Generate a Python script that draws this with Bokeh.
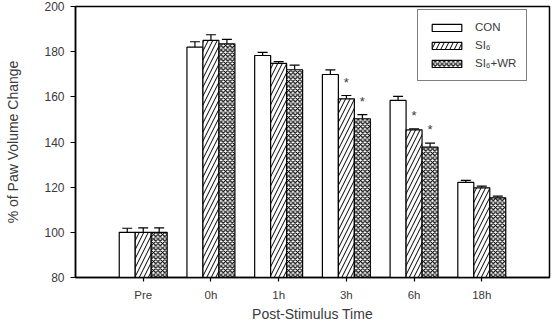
from bokeh.plotting import figure
from bokeh.models import (ColumnDataSource, Whisker, TeeHead, FixedTicker, Legend,
                          LegendItem, Range1d)
from bokeh.core.properties import value
from bokeh.embed import file_html
from bokeh.resources import INLINE

categories = ["Pre", "0h", "1h", "3h", "6h", "18h"]
series_names = ["CON", "SI\u2086", "SI\u2086+WR"]
con = [100.0, 182.0, 178.3, 169.9, 158.4, 122.1]
con_err = [1.8, 2.4, 1.4, 2.0, 1.8, 0.9]
si = [100.0, 185.0, 174.8, 159.1, 145.4, 119.7]
si_err = [2.0, 2.5, 0.8, 1.5, 0.4, 0.8]
wr = [100.0, 183.5, 172.0, 150.3, 137.7, 115.3]
wr_err = [2.0, 1.9, 2.0, 1.8, 1.8, 0.7]
# significance markers: (category index, series index)
stars = [(3, 1), (3, 2), (4, 1), (4, 2)]

FONT = "Liberation Sans"
TXT = "#3a3a3a"

p = figure(frame_width=474, frame_height=271, output_backend="svg", toolbar_location=None,
           x_range=Range1d(-1, 6), y_range=Range1d(80, 200),
           min_border_left=75, min_border_right=7, min_border_top=6, min_border_bottom=47)
p.grid.visible = False
p.outline_line_color = "black"
p.outline_line_width = 1.5
p.background_fill_color = "white"
p.border_fill_color = "white"

w = 0.236
offsets = [-w, 0.0, w]
styles = [
    dict(fill_color="white", hatch_pattern=None),
    dict(fill_color="white", hatch_pattern="right_diagonal_line", hatch_color="black",
         hatch_scale=9, hatch_weight=1.0),
    dict(fill_color="white", hatch_pattern="diagonal_cross", hatch_color="black",
         hatch_scale=4.5, hatch_weight=1.2),
]
data = [(con, con_err), (si, si_err), (wr, wr_err)]
renderers = []
for k, ((vals, errs), st) in enumerate(zip(data, styles)):
    xs = [i + offsets[k] for i in range(len(categories))]
    src = ColumnDataSource(dict(x=xs, top=vals, up=[v + e for v, e in zip(vals, errs)]))
    kw = {kk: vv for kk, vv in st.items() if vv is not None}
    r = p.vbar(x="x", top="top", bottom=80, width=w, source=src,
               line_color="black", line_width=1.2, **kw)
    renderers.append(r)
    wh = Whisker(base="x", lower="top", upper="up", source=src, dimension="height",
                 line_color="black", line_width=1.2,
                 upper_head=TeeHead(size=10, line_color="black", line_width=1.2),
                 lower_head=None)
    p.add_layout(wh)

sx, sy = [], []
for ci, si_ in stars:
    vals, errs = data[si_]
    sx.append(ci + offsets[si_])
    sy.append(vals[ci] + errs[ci] + 2.5)
p.text(x=sx, y=sy, text=["*"] * len(sx), text_align="center", text_baseline="bottom",
       text_font=value(FONT), text_font_size="13px", text_color=TXT)

p.xaxis.ticker = FixedTicker(ticks=list(range(len(categories))))
p.xaxis.major_label_overrides = {i: c for i, c in enumerate(categories)}
p.yaxis.ticker = FixedTicker(ticks=[80, 100, 120, 140, 160, 180, 200])
for ax in (p.xaxis, p.yaxis):
    ax.minor_tick_line_color = None
    ax.major_tick_in = 0
    ax.major_tick_out = 5
    ax.axis_line_width = 1.5
    ax.major_tick_line_width = 1.2
    ax.major_label_text_font = FONT
    ax.major_label_text_color = TXT
    ax.axis_label_text_font = FONT
    ax.axis_label_text_font_size = "14px"
    ax.axis_label_text_font_style = "normal"
    ax.axis_label_text_color = TXT
p.xaxis.major_label_text_font_size = "11.5px"
p.yaxis.major_label_text_font_size = "12px"
p.xaxis.major_tick_out = 4
p.xaxis.major_label_standoff = 7
p.xaxis.axis_label = "Post-Stimulus Time"
p.xaxis.axis_label_standoff = 2
p.yaxis.axis_label = "% of Paw Volume Change"
p.yaxis.axis_label_standoff = 20
p.yaxis.major_label_standoff = 6

legend = Legend(items=[LegendItem(label=n, renderers=[r]) for n, r in zip(series_names, renderers)],
                location=(342, 196), glyph_width=37, glyph_height=9, label_height=14,
                spacing=4, padding=10, label_standoff=10, margin=0,
                label_text_font=FONT, label_text_font_size="11.5px", label_text_color=TXT,
                border_line_color="black", border_line_width=1.5,
                background_fill_alpha=1.0)
p.add_layout(legend)

open("out.html", "w").write(file_html(p, INLINE))
